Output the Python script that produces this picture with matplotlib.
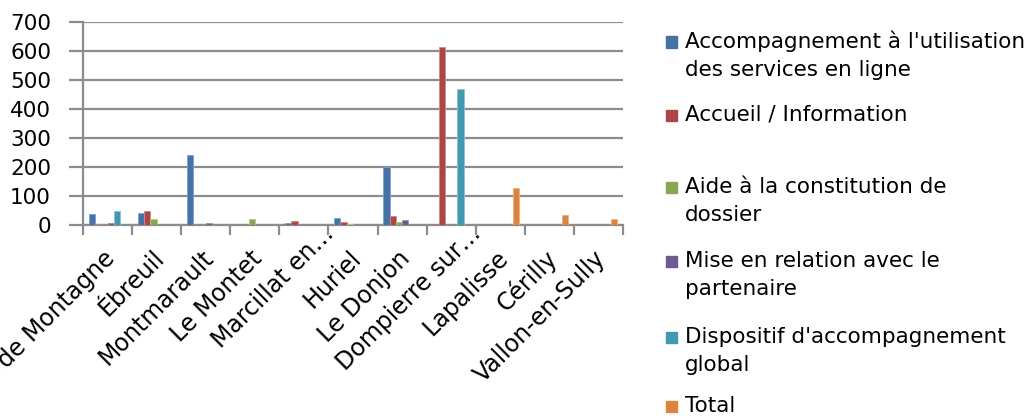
import matplotlib
matplotlib.use("Agg")
import matplotlib.pyplot as plt
import matplotlib.transforms as mtransforms
import numpy as np
from matplotlib.patches import Rectangle

categories = ["Le Mayet de Montagne", "Ébreuil", "Montmarault", "Le Montet",
              "Marcillat en…", "Huriel", "Le Donjon", "Dompierre sur…",
              "Lapalisse", "Cérilly", "Vallon-en-Sully"]

series_names = ["Accompagnement à l'utilisation\ndes services en ligne",
                "Accueil / Information",
                "Aide à la constitution de\ndossier",
                "Mise en relation avec le\npartenaire",
                "Dispositif d'accompagnement\nglobal",
                "Total"]

acc_en_ligne = [38, 40, 243, 0, 6, 23, 200, 0, 0, 0, 0]
accueil      = [2, 50, 1, 0, 14, 9, 31, 613, 0, 0, 0]
aide         = [0, 21, 0, 21, 0, 2, 10, 0, 0, 0, 0]
mise         = [6, 0, 6, 0, 0, 0, 17, 0, 0, 0, 0]
dispositif   = [50, 0, 0, 0, 0, 0, 0, 469, 0, 0, 0]
total        = [0, 0, 0, 0, 0, 0, 0, 0, 126, 34, 20]

series = [acc_en_ligne, accueil, aide, mise, dispositif, total]
colors = ["#4572A7", "#AA4643", "#89A54E", "#71588F", "#4198AF", "#DB843D"]
edges  = ["#7FA0CC", "#D08A88", "#B5CC8C", "#A090BC", "#86C4D8", "#F2B07A"]

FONT = "DejaVu Sans"
plt.rcParams['font.family'] = [FONT]
FS_Y = 15.5
FS_X = 17
FS_L = 15.5

W, H = 1029, 416
fig = plt.figure(figsize=(W / 100, H / 100), dpi=100)
ax = fig.add_axes([83 / W, 1 - 225 / H, (623 - 83) / W, (225 - 22) / H])

n = len(categories)
x = np.arange(n)
bw = 0.128
offsets = (np.arange(6) - 2.5) * bw
for vals, off, c, e in zip(series, offsets, colors, edges):
    ax.bar(x + off, vals, width=bw, color=c, edgecolor=e, linewidth=0.6, zorder=3)

ax.set_xlim(-0.5, n - 0.5)
ax.set_ylim(0, 700)
ax.set_yticks(np.arange(0, 701, 100))
ax.yaxis.grid(True, color="#8c8c8c", linewidth=1.6, zorder=0)
ax.set_axisbelow(True)

for s in ["top", "right"]:
    ax.spines[s].set_visible(False)
for s in ["left", "bottom"]:
    ax.spines[s].set_color("#8c8c8c")
    ax.spines[s].set_linewidth(1.6)

ax.tick_params(axis="y", length=10, width=1.6, color="#8c8c8c", pad=13,
               labelsize=FS_Y, labelcolor="black")
ax.set_xticks(x)
ax.set_xticklabels(categories, rotation=45, ha="right", va="center",
                   rotation_mode="anchor", fontsize=FS_X)
ax.tick_params(axis="x", which="major", length=0, pad=24)
ax.set_xticks(np.arange(-0.5, n, 1.0), minor=True)
ax.tick_params(axis="x", which="minor", length=7, width=1.6, color="#8c8c8c")

for lab in ax.get_xticklabels():
    dx, dy = 4, 4
    if lab.get_text().endswith("…"):
        dx, dy = 26, 28
    lab.set_transform(lab.get_transform() +
                      mtransforms.ScaledTranslation(dx / 100, dy / 100, fig.dpi_scale_trans))

# legend drawn manually (Excel-style layout)
centers = [42, 115, 187, 261, 337, 406]
pitch = 28
for name, c, cy in zip(series_names, colors, centers):
    fig.add_artist(Rectangle((666 / W, 1 - (cy + 5.5) / H), 11 / W, 11 / H,
                             transform=fig.transFigure, color=c))
    for i, line in enumerate(name.split("\n")):
        fig.text(685 / W, 1 - (cy + 6 + i * pitch) / H, line, fontsize=FS_L,
                 va="baseline", ha="left")

fig.savefig("out.png", dpi=100)
